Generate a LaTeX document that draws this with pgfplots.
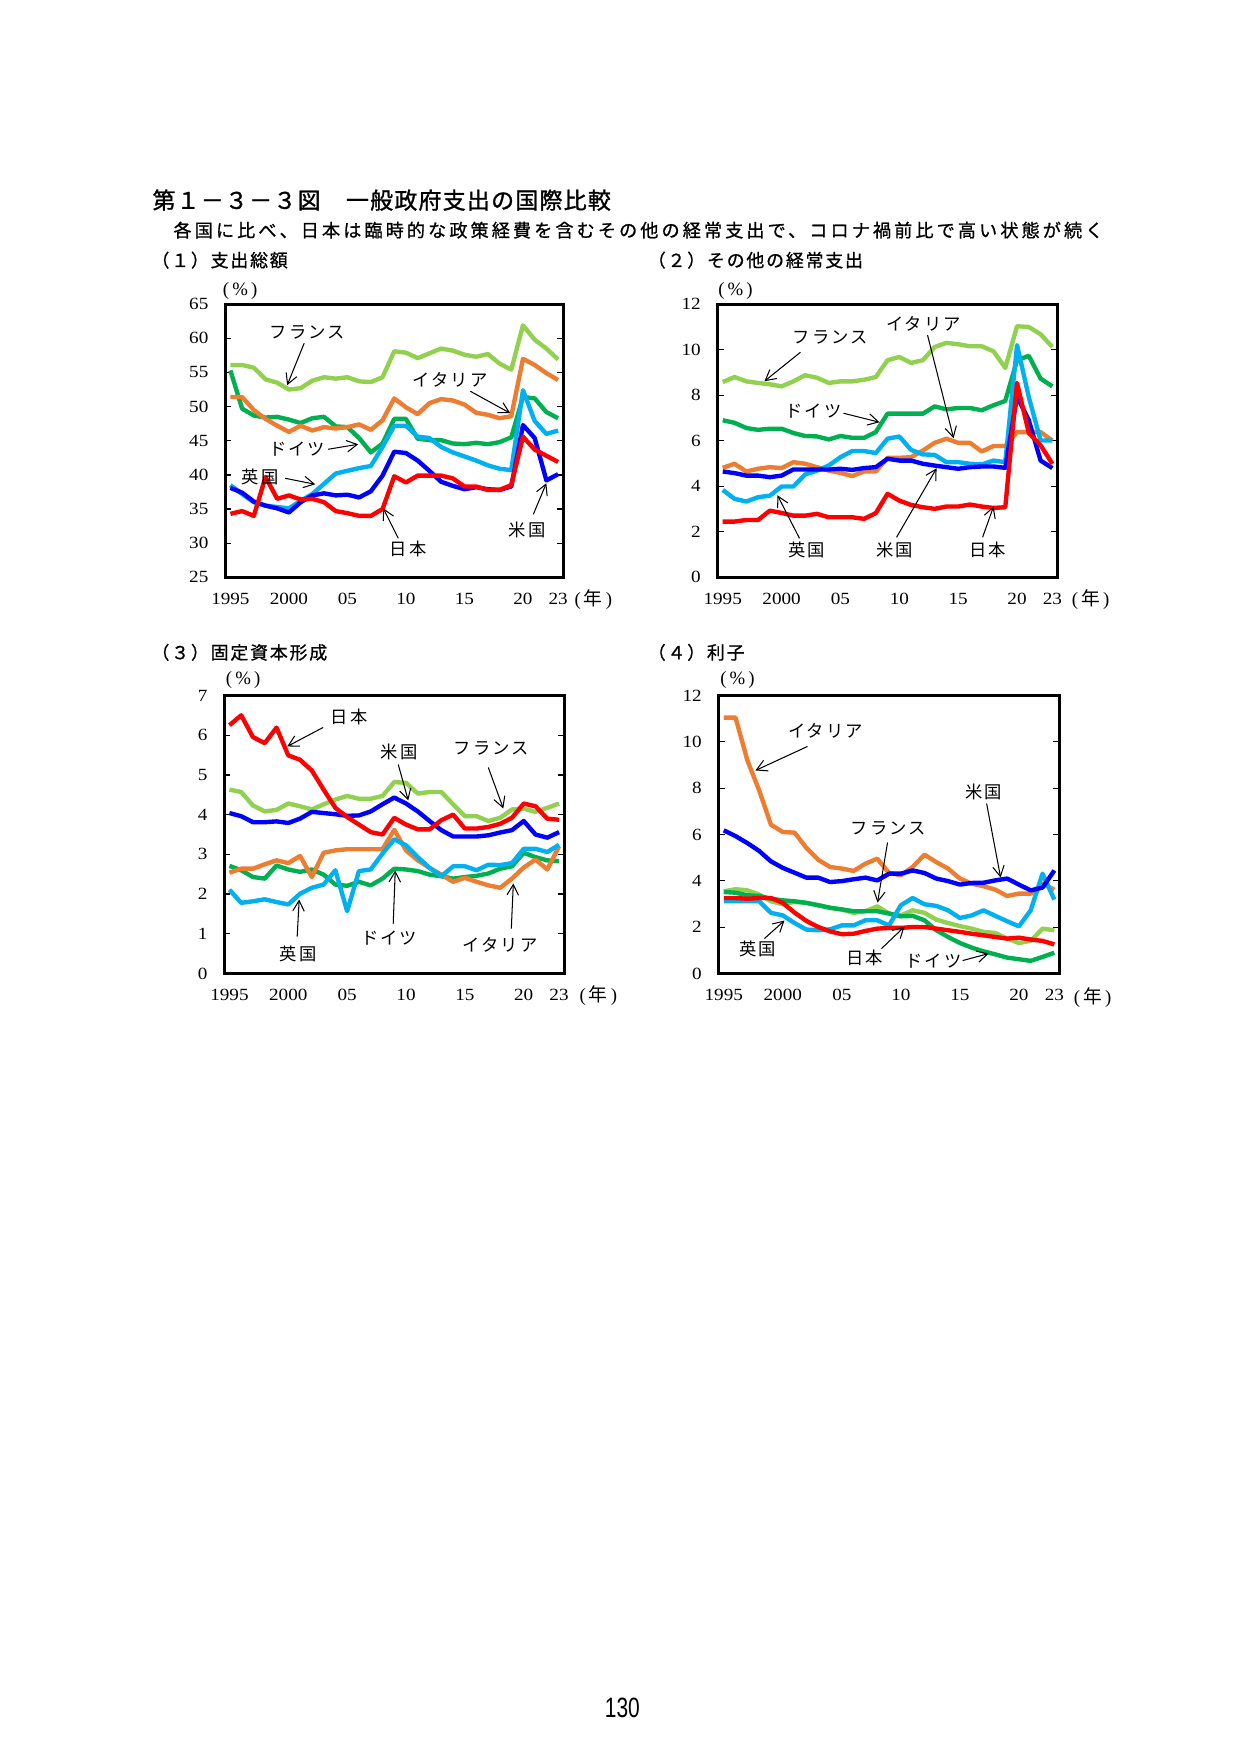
\documentclass[border=0pt]{standalone}
\usepackage{fontspec}
\usepackage{pgfplots}
\usepackage{pgfplotstable}
\pgfplotsset{compat=1.18}
\usetikzlibrary{arrows.meta}

\setmainfont{Liberation Serif}
\newfontfamily\jptitle{Noto Sans CJK JP}[LetterSpace=5.5,FakeBold=1.2]
\newfontfamily\jpsub{Noto Sans CJK JP}[LetterSpace=17,FakeBold=0.9]
\newfontfamily\jphead{Noto Sans CJK JP}[LetterSpace=10,FakeBold=0.9]
\newfontfamily\jplab{Noto Sans CJK JP}[LetterSpace=12]
\newfontfamily\jp{Noto Sans CJK JP}
\newfontfamily\tickfont{Liberation Serif}[FakeStretch=1.12]
\newfontfamily\pagefont{Liberation Sans}[FakeStretch=0.75]

\definecolor{cFR}{HTML}{92D050}
\definecolor{cDE}{HTML}{00B050}
\definecolor{cIT}{HTML}{ED7D31}
\definecolor{cUK}{HTML}{00B0F0}
\definecolor{cUS}{HTML}{0000FF}
\definecolor{cJP}{HTML}{FF0000}

% (1) total expenditure, % of GDP
\pgfplotstableread{
year fr de it uk us jp
1995 56.1 55.3 51.4 38.5 38.1 34.3
1996 56.1 49.7 51.4 37.2 37.4 34.7
1997 55.7 48.7 49.5 36.0 36.1 34.0
1998 54.0 48.4 48.2 35.5 35.5 39.7
1999 53.5 48.5 47.2 35.3 35.1 36.5
2000 52.5 48.1 46.3 35.1 34.5 37.0
2001 52.7 47.6 47.2 36.2 36.0 36.4
2002 53.8 48.3 46.5 37.2 37.0 36.5
2003 54.3 48.5 47.0 38.7 37.3 36.0
2004 54.1 47.1 46.8 40.2 37.0 34.7
2005 54.3 47.0 47.0 40.6 37.1 34.4
2006 53.7 45.4 47.4 41.0 36.7 34.0
2007 53.6 43.3 46.6 41.3 37.6 34.0
2008 54.3 44.6 48.0 44.1 39.9 35.0
2009 58.1 48.2 51.2 47.2 43.4 39.8
2010 57.9 48.2 49.9 47.2 43.2 38.9
2011 57.1 45.3 48.9 45.6 42.1 39.9
2012 57.8 45.1 50.5 45.4 40.6 39.9
2013 58.5 45.1 51.1 44.1 39.0 39.9
2014 58.2 44.6 50.9 43.3 38.4 39.5
2015 57.6 44.5 50.3 42.7 37.9 38.3
2016 57.3 44.7 49.1 42.1 38.2 38.3
2017 57.7 44.5 48.8 41.4 37.9 37.8
2018 56.3 44.8 48.3 40.9 37.8 37.8
2019 55.4 45.5 48.6 40.7 38.3 38.5
2020 61.9 51.4 57.0 52.4 47.3 45.6
2021 59.8 51.2 56.1 47.9 45.4 43.7
2022 58.5 49.2 54.9 46.0 39.2 42.8
2023 56.9 48.3 53.9 46.5 40.1 41.9
}\tabA

% (2) other current expenditure
\pgfplotstableread{
year fr de it uk us jp
1995 8.58 6.90 4.81 3.84 4.65 2.45
1996 8.80 6.79 4.99 3.45 4.58 2.45
1997 8.61 6.56 4.65 3.33 4.47 2.52
1998 8.54 6.48 4.77 3.52 4.47 2.52
1999 8.48 6.53 4.84 3.59 4.40 2.93
2000 8.39 6.53 4.80 3.99 4.47 2.83
2001 8.61 6.34 5.06 3.99 4.74 2.71
2002 8.88 6.21 4.99 4.52 4.74 2.71
2003 8.77 6.19 4.84 4.69 4.74 2.79
2004 8.54 6.06 4.69 4.91 4.74 2.64
2005 8.61 6.21 4.59 5.28 4.77 2.64
2006 8.61 6.13 4.45 5.55 4.72 2.64
2007 8.68 6.13 4.65 5.55 4.80 2.57
2008 8.80 6.38 4.65 5.46 4.84 2.82
2009 9.54 7.19 5.25 6.09 5.21 3.67
2010 9.68 7.19 5.25 6.19 5.13 3.37
2011 9.42 7.19 5.28 5.60 5.13 3.18
2012 9.54 7.19 5.57 5.40 4.99 3.08
2013 10.12 7.51 5.91 5.38 4.91 3.01
2014 10.30 7.38 6.09 5.06 4.84 3.11
2015 10.24 7.44 5.91 5.06 4.77 3.11
2016 10.15 7.44 5.91 4.99 4.84 3.20
2017 10.15 7.34 5.53 4.96 4.87 3.11
2018 9.93 7.56 5.77 5.13 4.87 3.05
2019 9.20 7.75 5.77 5.06 4.81 3.08
2020 11.03 9.54 6.38 10.20 7.95 8.54
2021 11.00 9.73 6.38 7.92 6.90 6.34
2022 10.68 8.73 6.38 6.01 5.13 5.80
2023 10.12 8.39 6.01 6.01 4.80 4.99
}\tabB

% (3) gross fixed capital formation
\pgfplotstableread{
year fr de it uk us jp
1995 4.63 2.71 2.54 2.11 4.04 6.25
1996 4.57 2.60 2.64 1.78 3.96 6.50
1997 4.23 2.43 2.64 1.82 3.81 5.95
1998 4.08 2.39 2.75 1.87 3.81 5.80
1999 4.12 2.72 2.85 1.80 3.83 6.19
2000 4.28 2.62 2.78 1.74 3.79 5.49
2001 4.21 2.56 2.96 2.01 3.90 5.38
2002 4.13 2.62 2.43 2.16 4.07 5.11
2003 4.26 2.49 3.04 2.24 4.04 4.63
2004 4.38 2.24 3.10 2.60 4.01 4.17
2005 4.47 2.21 3.13 1.57 3.97 3.94
2006 4.40 2.31 3.13 2.58 3.98 3.75
2007 4.40 2.22 3.13 2.62 4.08 3.56
2008 4.47 2.39 3.13 3.02 4.26 3.50
2009 4.82 2.64 3.62 3.38 4.43 3.92
2010 4.80 2.62 3.10 3.23 4.28 3.75
2011 4.53 2.58 2.85 2.93 4.08 3.63
2012 4.57 2.49 2.66 2.66 3.84 3.63
2013 4.57 2.45 2.49 2.45 3.61 3.86
2014 4.26 2.39 2.31 2.70 3.45 4.00
2015 3.96 2.43 2.41 2.70 3.45 3.65
2016 3.96 2.46 2.31 2.60 3.45 3.65
2017 3.84 2.52 2.22 2.74 3.48 3.69
2018 3.92 2.64 2.16 2.73 3.55 3.77
2019 4.13 2.70 2.39 2.78 3.61 3.92
2020 4.15 3.04 2.67 3.14 3.84 4.28
2021 4.07 2.93 2.87 3.14 3.50 4.21
2022 4.17 2.85 2.62 3.06 3.42 3.90
2023 4.28 2.83 3.20 3.24 3.56 3.87
}\tabC

% (4) interest
\pgfplotstableread{
year fr de it uk us jp
1995 3.55 3.52 11.04 3.12 6.18 3.26
1996 3.64 3.49 11.04 3.12 5.93 3.26
1997 3.59 3.38 9.20 3.12 5.63 3.23
1998 3.41 3.35 7.90 3.12 5.29 3.26
1999 3.12 3.23 6.42 2.62 4.84 3.26
2000 2.99 3.16 6.11 2.51 4.56 3.05
2001 3.09 3.12 6.08 2.18 4.35 2.63
2002 3.05 3.05 5.42 1.90 4.14 2.27
2003 2.95 2.95 4.91 1.87 4.14 2.01
2004 2.84 2.84 4.60 1.91 3.95 1.82
2005 2.76 2.77 4.53 2.08 3.99 1.70
2006 2.62 2.69 4.43 2.08 4.07 1.72
2007 2.69 2.69 4.74 2.30 4.14 1.84
2008 2.90 2.69 4.96 2.30 4.02 1.94
2009 2.59 2.59 4.34 2.08 4.31 1.97
2010 2.51 2.47 4.24 2.95 4.31 1.97
2011 2.73 2.49 4.60 3.26 4.45 2.01
2012 2.62 2.30 5.13 2.99 4.34 2.01
2013 2.33 1.87 4.81 2.92 4.10 1.94
2014 2.18 1.58 4.53 2.73 3.99 1.87
2015 2.05 1.32 4.10 2.40 3.84 1.80
2016 1.94 1.12 3.88 2.51 3.91 1.72
2017 1.80 0.96 3.77 2.73 3.92 1.65
2018 1.75 0.83 3.62 2.49 4.02 1.58
2019 1.51 0.69 3.35 2.26 4.10 1.51
2020 1.32 0.62 3.45 2.04 3.84 1.55
2021 1.41 0.55 3.45 2.73 3.59 1.47
2022 1.94 0.72 3.88 4.31 3.71 1.41
2023 1.87 0.90 3.62 3.19 4.45 1.26
}\tabD

\pgfplotsset{
  panel/.style={
    scale only axis, anchor=north west,
    xmin=1994.55, xmax=2023.45,
    xtick={1995,2000,2005,2010,2015,2020,2023},
    xticklabels={1995,2000,05,10,15,20,23},
    axis line style={line width=1.5pt},
    tick align=inside, major tick length=3pt,
    xtick style={draw=none},
    ytick style={line width=0.6pt, black},
    ticklabel style={font=\tickfont\fontsize{8.2}{9}\selectfont},
    /pgf/number format/assume math mode=true,
    xticklabel style={yshift=-4pt},
    yticklabel style={xshift=-4.5pt},
    every axis plot/.append style={line width=2.1pt, line join=round, no markers},
  },
}
\newcommand\sixlines[1]{%
  \addplot[cFR] table[x=year,y=fr] {#1};
  \addplot[cDE] table[x=year,y=de] {#1};
  \addplot[cIT] table[x=year,y=it] {#1};
  \addplot[cUK] table[x=year,y=uk] {#1};
  \addplot[cUS] table[x=year,y=us] {#1};
  \addplot[cJP] table[x=year,y=jp] {#1};
}

\begin{document}
\begin{tikzpicture}
\fill[white] (0,0) rectangle (595.28pt,-841.89pt);

\begin{axis}[panel, at={(108pt,-145.92pt)}, width=162.24pt, height=131.04pt,
  ymin=25, ymax=65, ytick={25,30,...,65}]
\sixlines{\tabA}
\end{axis}

\begin{axis}[panel, at={(344.16pt,-145.92pt)}, width=163.2pt, height=131.04pt,
  ymin=0, ymax=12, ytick={0,2,...,12}]
\sixlines{\tabB}
\end{axis}

\begin{axis}[panel, at={(107.52pt,-333.6pt)}, width=163.2pt, height=133.44pt,
  ymin=0, ymax=7, ytick={0,1,...,7}]
\sixlines{\tabC}
\end{axis}

\begin{axis}[panel, at={(344.64pt,-333.6pt)}, width=163.68pt, height=133.44pt,
  ymin=0, ymax=12, ytick={0,2,...,12}]
\sixlines{\tabD}
\end{axis}

\begin{scope}[x=0.48pt, y=-0.48pt,
  lab/.style={inner sep=0pt, font=\jplab\fontsize{8.3}{9}\selectfont},
  arr/.style={line width=0.5pt, -{Straight Barb[length=5pt,width=5.5pt]}},
  unit/.style={inner sep=0pt, font=\fontsize{9}{10}\selectfont}]
% headings
\node[anchor=west, inner sep=0pt, font=\jptitle\fontsize{11}{12}\selectfont] at (152,200) {第１－３－３図　一般政府支出の国際比較};
\node[anchor=west, inner sep=0pt, font=\jpsub\fontsize{8.7}{10}\selectfont] at (173,230) {各国に比べ、日本は臨時的な政策経費を含むその他の経常支出で、コロナ禍前比で高い状態が続く};
\node[anchor=west, inner sep=0pt, font=\jphead\fontsize{8.6}{10}\selectfont] at (151,260) {（１）支出総額};
\node[anchor=west, inner sep=0pt, font=\jphead\fontsize{8.6}{10}\selectfont] at (647,260) {（２）その他の経常支出};
\node[anchor=west, inner sep=0pt, font=\jphead\fontsize{8.6}{10}\selectfont] at (151,652) {（３）固定資本形成};
\node[anchor=west, inner sep=0pt, font=\jphead\fontsize{8.6}{10}\selectfont] at (647,652) {（４）利子};

% units
\node[unit] at (240,291) {(\,\%\,)};
\node[unit] at (735,291) {(\,\%\,)};
\node[unit] at (243,680) {(\,\%\,)};
\node[unit] at (737,680) {(\,\%\,)};
\node[unit] at (593,599) {(\,{\jp 年}\,)};
\node[unit] at (1090,599) {(\,{\jp 年}\,)};
\node[unit] at (598,995) {(\,{\jp 年}\,)};
\node[unit] at (1092,997) {(\,{\jp 年}\,)};

% (1) callouts
\node[lab] at (307,332) {フランス}; \draw[arr] (304,343) -- (287,385);
\node[lab] at (450,380) {イタリア}; \draw[arr] (470,391) -- (510,413);
\node[lab] at (297,449) {ドイツ};   \draw[arr] (328,449) -- (358,444);
\node[lab] at (260,477) {英国};     \draw[arr] (285,478) -- (315,484);
\node[lab] at (408,549) {日本};     \draw[arr] (398,538) -- (383,508);
\node[lab] at (527,530) {米国};     \draw[arr] (533,514) -- (546,483);

% (2) callouts
\node[lab] at (830,337) {フランス}; \draw[arr] (800,352) -- (764,381);
\node[lab] at (923,324) {イタリア}; \draw[arr] (927,335) -- (953,438);
\node[lab] at (813,411) {ドイツ};   \draw[arr] (843,413) -- (879,422);
\node[lab] at (806,550) {英国};     \draw[arr] (799,538) -- (777,495);
\node[lab] at (894,550) {米国};     \draw[arr] (896,537) -- (936,468);
\node[lab] at (987,550) {日本};     \draw[arr] (982,537) -- (993,506);

% (3) callouts
\node[lab] at (349,717) {日本};     \draw[arr] (323,727) -- (287,746);
\node[lab] at (399,751) {米国};     \draw[arr] (398,764) -- (408,800);
\node[lab] at (491,748) {フランス}; \draw[arr] (488,767) -- (503,808);
\node[lab] at (298,953) {英国};     \draw[arr] (297,936) -- (299,899);
\node[lab] at (389,938) {ドイツ};   \draw[arr] (393,923) -- (395,870);
\node[lab] at (500,944) {イタリア}; \draw[arr] (511,928) -- (513,883);

% (4) callouts
\node[lab] at (825,730) {イタリア}; \draw[arr] (807,746) -- (755,770);
\node[lab] at (983,791) {米国};     \draw[arr] (986,803) -- (1000,877);
\node[lab] at (888,828) {フランス}; \draw[arr] (887,842) -- (877,902);
\node[lab] at (757,948) {英国};     \draw[arr] (764,938) -- (784,920);
\node[lab] at (864,957) {日本};     \draw[arr] (881,948) -- (904,926);
\node[lab] at (933,961) {ドイツ};   \draw[arr] (962,960) -- (988,953);

% page number
\node[inner sep=0pt, font=\pagefont\fontsize{13.4}{14}\selectfont] at (622,1707) {130};
\end{scope}
\end{tikzpicture}
\end{document}
